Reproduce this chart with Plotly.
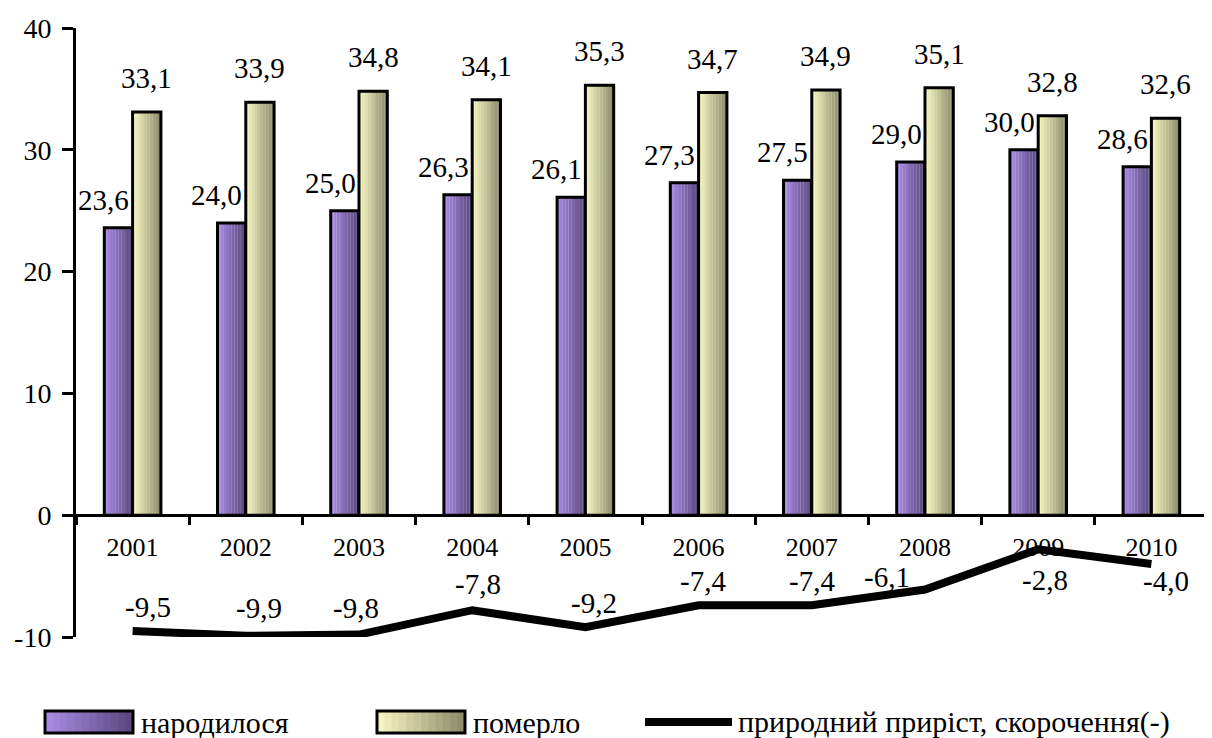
import plotly.graph_objects as go

# ---------------- data ----------------
years = ["2001", "2002", "2003", "2004", "2005", "2006", "2007", "2008", "2009", "2010"]
born = [23.6, 24.0, 25.0, 26.3, 26.1, 27.3, 27.5, 29.0, 30.0, 28.6]
died = [33.1, 33.9, 34.8, 34.1, 35.3, 34.7, 34.9, 35.1, 32.8, 32.6]
natural = [-9.5, -9.9, -9.8, -7.8, -9.2, -7.4, -7.4, -6.1, -2.8, -4.0]
y_ticks = [-10, 0, 10, 20, 30, 40]
y_tick_labels = ["-10", "0", "10", "20", "30", "40"]

name_born = "народилося"
name_died = "померло"
name_nat = "природний приріст, скорочення(-)"

# ---------------- style ----------------
FONT = "'Liberation Serif', 'Times New Roman', Tinos, 'DejaVu Serif', serif"
OFF = 8                      # page body margin of the viewer
W, H = 1212 - OFF, 738 - OFF
ML, MR, MT, MB = 76 - OFF, 4, 28 - OFF, 101
BAR_W = 0.25
N_STRIPS = 10
PURPLE = ((172, 142, 232), (88, 70, 122))
YELLOW = ((250, 250, 196), (136, 136, 104))


def fmt(v):
    return f"{v:.1f}".replace(".", ",")


def mix(c0, c1, t):
    return "rgb(%d,%d,%d)" % tuple(round(a + (b - a) * t) for a, b in zip(c0, c1))


fig = go.Figure()


def add_gradient_bars(values, base_offset, cols, name):
    sw = BAR_W / N_STRIPS
    for i in range(N_STRIPS):
        c = mix(cols[0], cols[1], (i + 0.5) / N_STRIPS)
        fig.add_trace(go.Bar(
            x=years, y=values, width=sw * 1.05, offset=base_offset + i * sw,
            marker=dict(color=c, line=dict(width=0)),
            showlegend=False, hoverinfo="skip", name=name))
    fig.add_trace(go.Bar(
        x=years, y=values, width=BAR_W, offset=base_offset,
        marker=dict(color="rgba(0,0,0,0)", line=dict(color="black", width=3)),
        showlegend=False, name=name))


add_gradient_bars(born, -BAR_W, PURPLE, name_born)
add_gradient_bars(died, 0.0, YELLOW, name_died)

fig.add_trace(go.Scatter(
    x=years, y=natural, mode="lines", name=name_nat,
    line=dict(color="black", width=8), cliponaxis=False, showlegend=False))

annotations = []
lab_font = dict(family=FONT, size=29, color="black")
for i, v in enumerate(born):
    annotations.append(dict(x=i, y=v, xref="x", yref="y", text=fmt(v), showarrow=False,
                            xshift=-29, yshift=28, font=lab_font,
                            xanchor="center", yanchor="middle"))
for i, v in enumerate(died):
    annotations.append(dict(x=i, y=v, xref="x", yref="y", text=fmt(v), showarrow=False,
                            xshift=14, yshift=34, font=lab_font,
                            xanchor="center", yanchor="middle"))
line_shifts = [(15, 24), (13, 28), (-3, 27), (6, 26), (9, 24),
               (4, 24), (0, 24), (-38, 13), (7, -31), (15, -17)]
for i, (v, (dx, dy)) in enumerate(zip(natural, line_shifts)):
    annotations.append(dict(x=i, y=v, xref="x", yref="y", text=fmt(v), showarrow=False,
                            xshift=dx, yshift=dy, font=lab_font,
                            xanchor="center", yanchor="middle"))

# ---------------- manual legend (screen pixel coords) ----------------
pw = W - ML - MR
ph = H - MT - MB


def px(x):
    return (x - OFF - ML) / pw


def py(y):
    return (H - MB - (y - OFF)) / ph


shapes = []
leg_items = [
    ("box", PURPLE, 45, 133, 139, name_born),
    ("box", YELLOW, 377, 465, 471, name_died),
    ("line", None, 645, 732, 736, name_nat),
]
LEG_Y0, LEG_Y1 = 711, 733
LEG_YC = 722
for kind, cols, x0, x1, tx, label in leg_items:
    if kind == "box":
        n = 12
        for i in range(n):
            shapes.append(dict(type="rect", xref="paper", yref="paper",
                               x0=px(x0 + (x1 - x0) * i / n), x1=px(x0 + (x1 - x0) * (i + 1) / n + 0.6),
                               y0=py(LEG_Y1), y1=py(LEG_Y0),
                               fillcolor=mix(cols[0], cols[1], (i + 0.5) / n),
                               line=dict(width=0), layer="above"))
        shapes.append(dict(type="rect", xref="paper", yref="paper",
                           x0=px(x0), x1=px(x1), y0=py(LEG_Y1), y1=py(LEG_Y0),
                           fillcolor="rgba(0,0,0,0)", line=dict(color="black", width=3)))
    else:
        shapes.append(dict(type="line", xref="paper", yref="paper",
                           x0=px(x0), x1=px(x1), y0=py(LEG_YC), y1=py(LEG_YC),
                           line=dict(color="black", width=8)))
    annotations.append(dict(x=px(tx), y=py(LEG_YC), xref="paper", yref="paper", text=label,
                            showarrow=False, xanchor="left", yanchor="middle",
                            font=dict(family=FONT, size=30, color="black")))

fig.update_layout(
    template="none",
    width=W, height=H,
    margin=dict(l=ML, r=MR, t=MT, b=MB, pad=0),
    plot_bgcolor="white", paper_bgcolor="white",
    barmode="overlay",
    showlegend=False,
    font=dict(family=FONT, color="black"),
    annotations=annotations,
    shapes=shapes,
    xaxis=dict(type="category", range=[-0.5, 9.5], anchor="free", position=0.2,
               automargin=False,
               showline=True, linecolor="black", linewidth=3,
               ticks="outside", tickson="boundaries", ticklen=8, tickwidth=3, tickcolor="black",
               tickfont=dict(family=FONT, size=26, color="black"), tickangle=0,
               ticklabelstandoff=8, showgrid=False, zeroline=False),
    yaxis=dict(range=[-10, 40], tickmode="array", tickvals=y_ticks, ticktext=y_tick_labels,
               automargin=False,
               showline=True, linecolor="black", linewidth=3,
               ticks="outside", ticklen=11, tickwidth=3, tickcolor="black",
               tickfont=dict(family=FONT, size=28, color="black"),
               ticklabelstandoff=5, showgrid=False, zeroline=False),
)

fig.write_html("out.html")
